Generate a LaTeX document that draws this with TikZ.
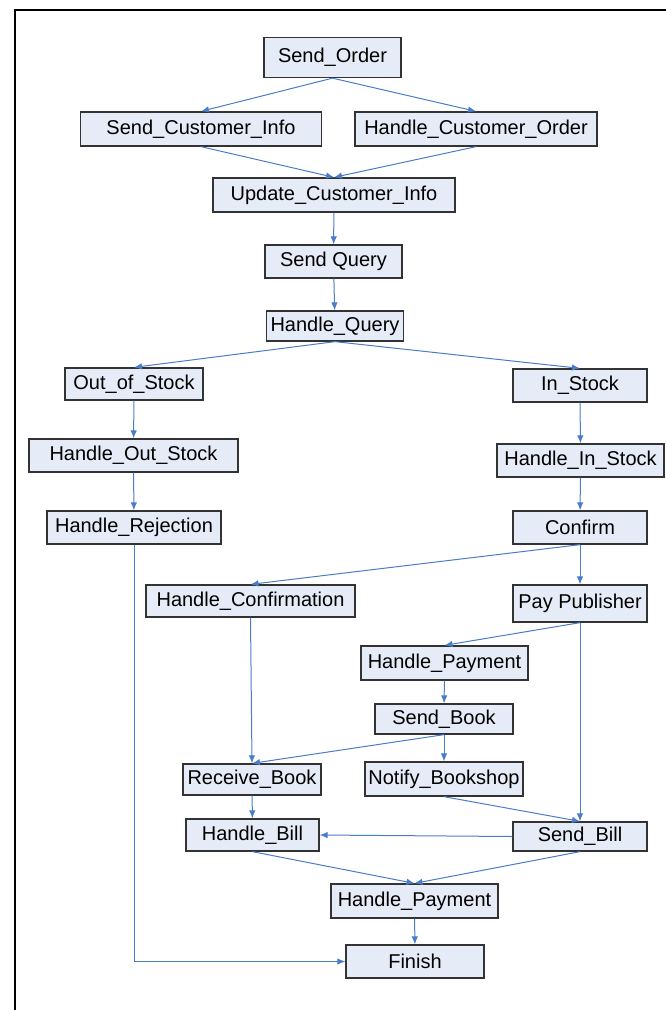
\documentclass[tikz,border=0pt]{standalone}
\usepackage{fontspec}
\setmainfont{Liberation Sans}
\usetikzlibrary{arrows.meta}
\definecolor{boxfill}{HTML}{E6ECF7}
\definecolor{boxline}{HTML}{333333}
\definecolor{flowblue}{HTML}{4A7CC8}
\tikzstyle{task}=[rectangle, draw=boxline, line width=1.3pt, fill=boxfill, inner sep=0pt,
  font=\fontsize{20}{24}\selectfont]
\tikzstyle{flow}=[draw=flowblue, line width=1pt, -{Latex[length=8pt,width=6.5pt]}]

\begin{document}
\begin{tikzpicture}[x=1pt,y=-1pt]
  \useasboundingbox (0,0) rectangle (665,1010);
  \draw[line width=2.4pt] (15,1012) -- (15,10) -- (667,10);
  % top part
  \node[task, minimum width=137pt, minimum height=40pt] (sendorder) at (332.5,57.5) {Send\_Order};
  \node[task, minimum width=241pt, minimum height=34pt] (sendinfo) at (201,129) {Send\_Customer\_Info};
  \node[task, minimum width=242pt, minimum height=34pt] (handleorder) at (476,129) {Handle\_Customer\_Order};
  \node[task, minimum width=242pt, minimum height=34pt] (updateinfo) at (334,195) {Update\_Customer\_Info};
  \node[task, minimum width=137pt, minimum height=33pt] (sendquery) at (333.5,261.5) {Send Query};
  \node[task, minimum width=137pt, minimum height=30pt] (handlequery) at (335,326) {Handle\_Query};
  % stock branches
  \node[task, minimum width=138pt, minimum height=32pt] (outstock) at (134,384) {Out\_of\_Stock};
  \node[task, minimum width=134pt, minimum height=33pt] (instock) at (580,385.5) {In\_Stock};
  \node[task, minimum width=209pt, minimum height=33pt] (handleout) at (133.5,455.5) {Handle\_Out\_Stock};
  \node[task, minimum width=167pt, minimum height=33pt] (handlein) at (580.5,460.5) {Handle\_In\_Stock};
  \node[task, minimum width=174pt, minimum height=33pt] (rejection) at (134,527.5) {Handle\_Rejection};
  \node[task, minimum width=134pt, minimum height=33pt] (confirm) at (580,527.5) {Confirm};
  % confirmation and payment
  \node[task, minimum width=209pt, minimum height=32pt] (handleconf) at (250.5,601) {Handle\_Confirmation};
  \node[task, minimum width=134pt, minimum height=37pt] (paypub) at (580,603.5) {Pay Publisher};
  \node[task, minimum width=167pt, minimum height=34pt] (payment) at (444.5,663) {Handle\_Payment};
  \node[task, minimum width=138pt, minimum height=30pt] (sendbook) at (444,719) {Send\_Book};
  \node[task, minimum width=138pt, minimum height=31pt] (receivebook) at (252,779.5) {Receive\_Book};
  \node[task, minimum width=158pt, minimum height=34pt] (notify) at (444,779) {Notify\_Bookshop};
  \node[task, minimum width=133pt, minimum height=32pt] (handlebill) at (252.5,835) {Handle\_Bill};
  \node[task, minimum width=134pt, minimum height=29pt] (sendbill) at (580,836.5) {Send\_Bill};
  \node[task, minimum width=167pt, minimum height=34pt] (payment2) at (414.5,901) {Handle\_Payment};
  \node[task, minimum width=138pt, minimum height=33pt] (finish) at (415,961.5) {Finish};

  \draw[flow] (sendorder.south) -- (sendinfo.north);
  \draw[flow] (sendorder.south) -- (handleorder.north);
  \draw[flow] (sendinfo.south) -- (updateinfo.north);
  \draw[flow] (handleorder.south) -- (updateinfo.north);
  \draw[flow] (updateinfo) -- (sendquery);
  \draw[flow] (sendquery) -- (handlequery);
  \draw[flow] (handlequery.south) -- (outstock.north);
  \draw[flow] (handlequery.south) -- (instock.north);
  \draw[flow] (outstock) -- (handleout);
  \draw[flow] (handleout) -- (rejection);
  \draw[flow] (instock) -- (handlein);
  \draw[flow] (handlein) -- (confirm);
  \draw[flow] (rejection.south) |- (finish.west);
  \draw[flow] (confirm.south) -- (handleconf.north);
  \draw[flow] (confirm) -- (paypub);
  \draw[flow] (paypub.south) -- (payment.north);
  \draw[flow] (paypub.south) -- (sendbill.north);
  \draw[flow] (handleconf.south) -- (receivebook.north);
  \draw[flow] (payment) -- (sendbook);
  \draw[flow] (sendbook.south) -- (receivebook.north);
  \draw[flow] (sendbook) -- (notify);
  \draw[flow] (notify.south) -- (sendbill.north);
  \draw[flow] (receivebook) -- (handlebill);
  \draw[flow] (sendbill.west) -- (handlebill.east);
  \draw[flow] (handlebill.south) -- (payment2.north);
  \draw[flow] (sendbill.south) -- (payment2.north);
  \draw[flow] (payment2) -- (finish);
\end{tikzpicture}
\end{document}
